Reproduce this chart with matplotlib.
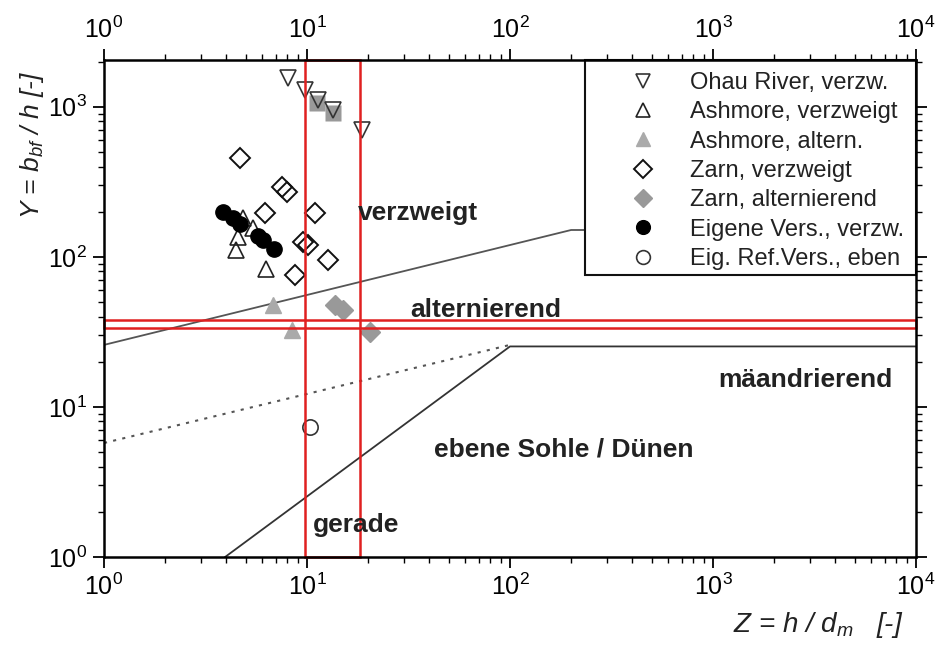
import numpy as np
import matplotlib
matplotlib.use("Agg")
import matplotlib.pyplot as plt
from matplotlib.patches import Rectangle

plt.rcParams['font.family'] = ['Liberation Sans', 'DejaVu Sans']
plt.rcParams['mathtext.fontset'] = 'custom'
plt.rcParams['mathtext.rm'] = 'Liberation Sans'
plt.rcParams['mathtext.it'] = 'Liberation Sans:italic'
plt.rcParams['mathtext.bf'] = 'Liberation Sans:bold'

# ---- data ----
ohau_x = [8.06, 9.77, 11.3, 13.4, 18.7]
ohau_y = [1560, 1298, 1113, 955, 702]
ohau_sq_x = [11.2, 13.4]
ohau_sq_y = [1063, 912]

ash_v_x = [4.84, 5.42, 4.57, 4.47, 6.28]
ash_v_y = [182, 156, 136, 111, 83]

ash_a_x = [6.80, 8.44]
ash_a_y = [47.9, 32.6]

zarn_v_x = [4.68, 7.53, 7.97, 6.21, 10.95, 9.55, 10.1, 12.7, 8.73]
zarn_v_y = [457, 293, 271, 196, 196, 126, 120, 95.5, 75.9]

zarn_a_x = [13.7, 15.0, 20.4]
zarn_a_y = [47.9, 44.3, 31.6]

eig_x = [3.86, 4.32, 4.68, 5.73, 6.07, 6.88]
eig_y = [200, 182, 166, 138, 130, 113]

ref_x = [10.3]
ref_y = [7.36]

# boundary lines
upper_x = [1, 200, 1e4]
upper_y = [25.9, 151, 151]
dotted_x = [1, 100]
dotted_y = [5.75, 25.9]
lower_x = [3.95, 100, 1e4]
lower_y = [1, 25.3, 25.3]

# highlight ranges
zrange = (9.8, 18.2)
yrange = (33.6, 38)

W, H = 937, 651
fig = plt.figure(figsize=(W/100, H/100), dpi=100)
ax = fig.add_axes([104/W, 1-557/H, 812/W, 497/H])
ax.set_xscale('log')
ax.set_yscale('log')
ax.set_xlim(1, 1e4)
ax.set_ylim(1, 2050)

ax.plot(upper_x, upper_y, color='#555555', lw=1.3, zorder=2)
ax.plot(dotted_x, dotted_y, color='#555555', lw=1.5, ls=(0, (1.5, 3)), zorder=2)
ax.plot(lower_x, lower_y, color='#333333', lw=1.3, zorder=2)

# red highlight rectangles
ax.add_patch(Rectangle((zrange[0], 1), zrange[1]-zrange[0], 2050, fill=False,
                       ec='#e02020', lw=1.8, zorder=6, clip_on=False))
ax.add_patch(Rectangle((1, yrange[0]), 1e4-1, yrange[1]-yrange[0], fill=False,
                       ec='#e02020', lw=1.8, zorder=6, clip_on=False))

ms = 11
ax.plot(ohau_sq_x, ohau_sq_y, 's', ms=12, color='#999999', mec='none', zorder=3)
ax.plot(ohau_x, ohau_y, 'v', ms=ms, mfc='none', mec='#333333', mew=1.2, ls='none',
        label='Ohau River, verzw.', zorder=4)
ax.plot(ash_v_x, ash_v_y, '^', ms=ms, mfc='none', mec='#222222', mew=1.2, ls='none',
        label='Ashmore, verzweigt', zorder=4)
ax.plot(ash_a_x, ash_a_y, '^', ms=ms, mfc='#aaaaaa', mec='#aaaaaa', ls='none',
        label='Ashmore, altern.', zorder=4)
ax.plot(zarn_v_x, zarn_v_y, 'D', ms=10.5, mfc='none', mec='#111111', mew=1.4, ls='none',
        label='Zarn, verzweigt', zorder=4)
ax.plot(zarn_a_x, zarn_a_y, 'D', ms=10.5, mfc='#999999', mec='#999999', ls='none',
        label='Zarn, alternierend', zorder=4)
ax.plot(eig_x, eig_y, 'o', ms=ms, mfc='black', mec='black', ls='none',
        label='Eigene Vers., verzw.', zorder=5)
ax.plot(ref_x, ref_y, 'o', ms=ms, mfc='white', mec='#333333', mew=1.2, ls='none',
        label='Eig. Ref.Vers., eben', zorder=4)

# legend frame (drawn separately) and frameless legend
frame = Rectangle((585/W, 1-275/H), (916-585)/W, (275-60)/H, transform=fig.transFigure,
                  fc='white', ec='#111111', lw=1.5, zorder=7)
ax.add_patch(frame)
frame.set_clip_on(False)
leg = ax.legend(loc='upper left', bbox_to_anchor=(612/W, 1-72/H),
                bbox_transform=fig.transFigure, borderaxespad=0, borderpad=0,
                frameon=False, fontsize=17, handlelength=2.6, handletextpad=0.7,
                labelspacing=0.31, labelcolor='#222222', markerscale=0.9)
leg.set_zorder(8)

# region labels
tk = dict(fontsize=19, fontweight='bold', color='#222222', zorder=8)
ax.text(17.8, 196, 'verzweigt', ha='left', va='center', **tk)
ax.text(76.2, 44.3, 'alternierend', ha='center', va='center', **tk)
ax.text(2840, 15.1, 'mäandrierend', ha='center', va='center', **tk)
ax.text(184.5, 5.17, 'ebene Sohle / Dünen', ha='center', va='center', **tk)
ax.text(17.4, 1.63, 'gerade', ha='center', va='center', **tk)

for sp in ax.spines.values():
    sp.set_linewidth(1.8)
    sp.set_zorder(9)
ax.tick_params(which='both', direction='out', top=True, right=True,
               labeltop=True, labelbottom=True, labelleft=True, labelright=False)
ax.tick_params(which='major', length=8, width=1.3, labelsize=18, pad=4)
ax.tick_params(which='minor', length=4, width=1.0)
ax.xaxis.set_major_locator(matplotlib.ticker.LogLocator(base=10, numticks=10))
ax.xaxis.set_minor_locator(matplotlib.ticker.LogLocator(base=10, subs=np.arange(2, 10), numticks=20))
ax.yaxis.set_minor_locator(matplotlib.ticker.LogLocator(base=10, subs=np.arange(2, 10), numticks=20))
ax.xaxis.set_minor_formatter(matplotlib.ticker.NullFormatter())
ax.yaxis.set_minor_formatter(matplotlib.ticker.NullFormatter())

fig.text(32/W, 1-145/H, r'$Y$ = $b_{bf}$ / $h$ [-]', rotation=90, fontstyle='italic',
         ha='center', va='center', fontsize=19, color='#222222')
fig.text(818/W, 1-625/H, r'$Z$ = $h$ / $d_{m}$   [-]', fontstyle='italic',
         ha='center', va='center', fontsize=20, color='#222222')

fig.savefig('out.png', dpi=100)
